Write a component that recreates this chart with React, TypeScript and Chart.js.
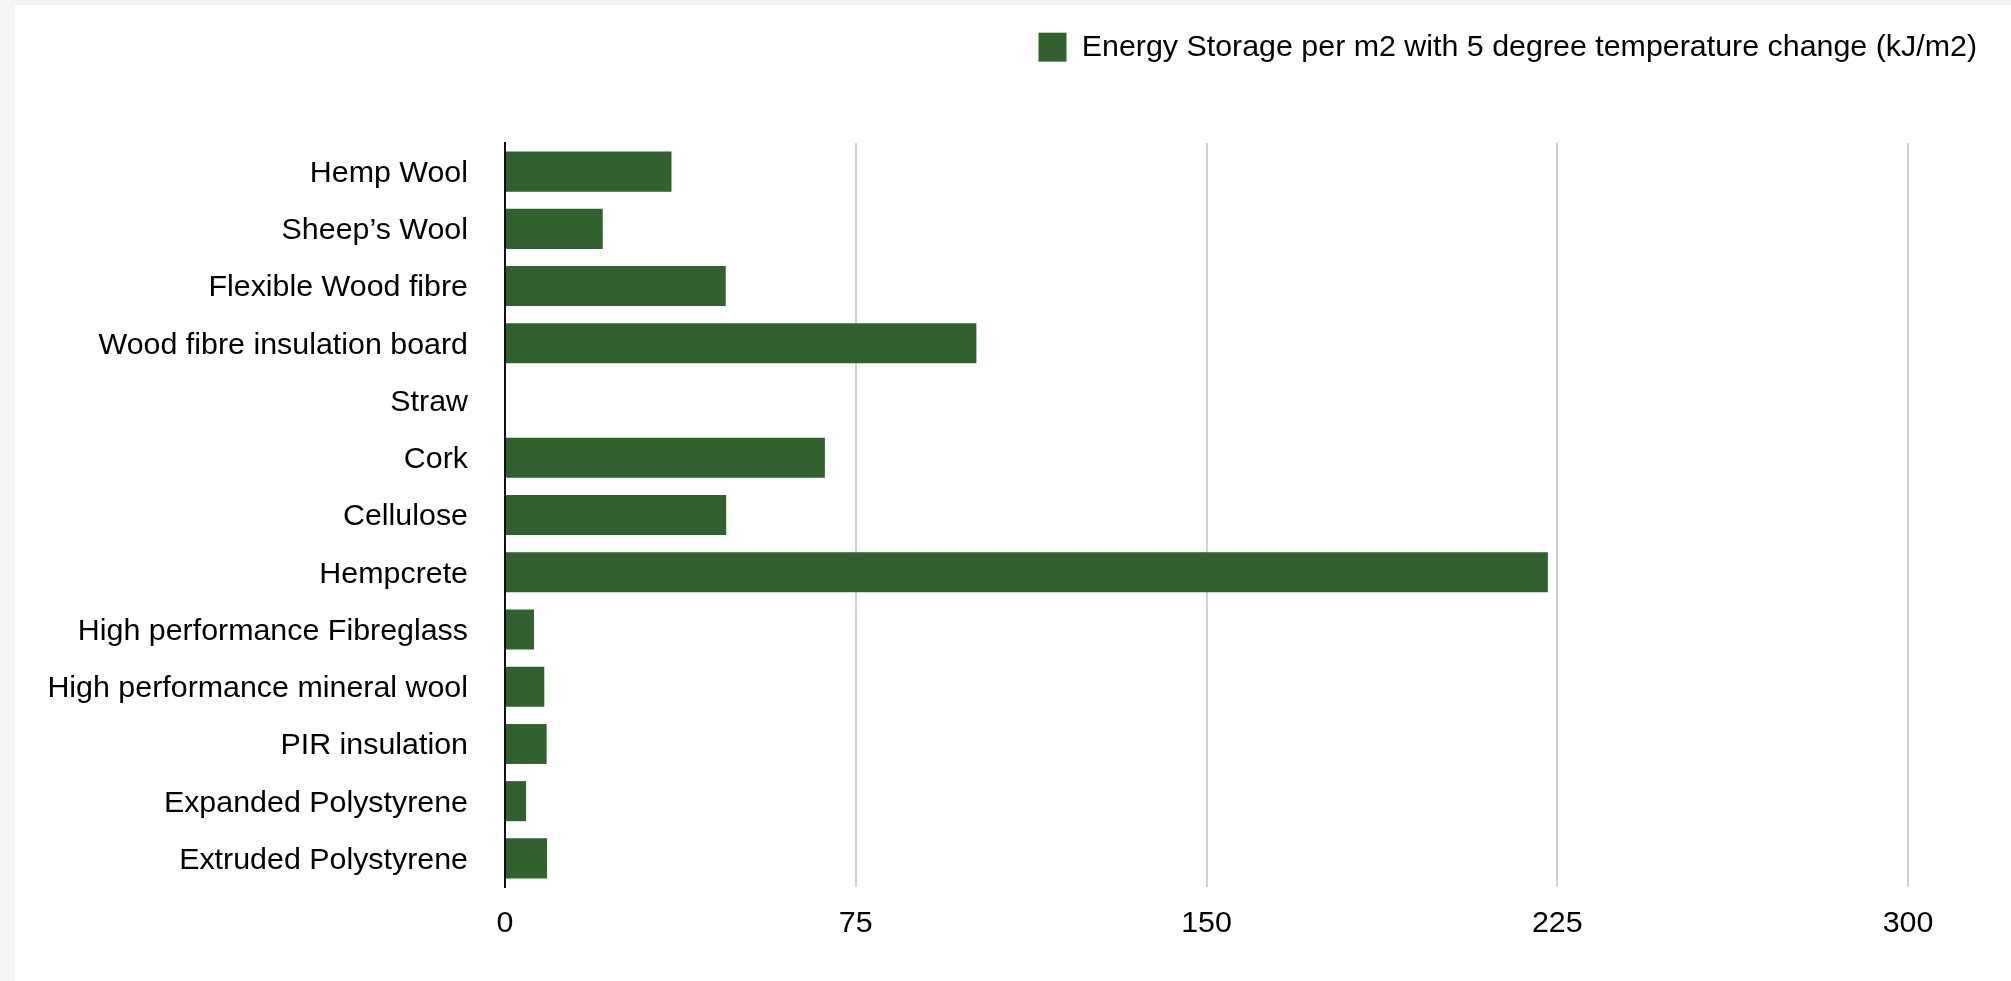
import { useEffect, useRef } from 'react';
import { Chart, registerables } from 'chart.js';

Chart.register(...registerables);

const categories = [
  'Hemp Wool',
  'Sheep\u2019s Wool',
  'Flexible Wood fibre',
  'Wood fibre insulation board',
  'Straw',
  'Cork',
  'Cellulose',
  'Hempcrete',
  'High performance Fibreglass',
  'High performance mineral wool',
  'PIR insulation',
  'Expanded Polystyrene',
  'Extruded Polystyrene',
];

const energyStorage = [35.6, 20.9, 47.2, 100.8, 0, 68.4, 47.3, 223.0, 6.2, 8.4, 8.9, 4.5, 9.0];

const xTickValues = [0, 75, 150, 225, 300];

const seriesLabel = 'Energy Storage per m2 with 5 degree temperature change (kJ/m2)';

const FONT_FAMILY = '"Liberation Sans", Arial, Helvetica, sans-serif';
const FONT_SIZE = 30.4;
const BAR_COLOR = '#31612e';

export default function App() {
  const canvasRef = useRef<HTMLCanvasElement | null>(null);

  useEffect(() => {
    document.body.style.margin = '0';
    const canvas = canvasRef.current;
    if (!canvas) return;

    const legendHeightPlugin = {
      id: 'legendHeight',
      beforeInit(chart: any) {
        if (!chart.legend) return;
        const origFit = chart.legend.fit;
        chart.legend.fit = function fit() {
          origFit.call(this);
          this.height = 121;
        };
      },
    };

    const chart = new Chart(canvas, {
      type: 'bar',
      data: {
        labels: categories,
        datasets: [
          {
            label: seriesLabel,
            data: energyStorage,
            backgroundColor: BAR_COLOR,
            borderWidth: 0,
            categoryPercentage: 0.8,
            barPercentage: 0.875,
          },
        ],
      },
      options: {
        indexAxis: 'y',
        responsive: false,
        animation: false,
        layout: { padding: { left: 0, right: 24, top: 17, bottom: 0 } },
        plugins: {
          legend: {
            position: 'top',
            align: 'end',
            labels: {
              boxWidth: 28,
              boxHeight: 29,
              padding: 10,
              color: '#000',
              font: { family: FONT_FAMILY, size: FONT_SIZE },
            },
          },
          tooltip: { enabled: false },
        },
        scales: {
          x: {
            type: 'linear',
            min: 0,
            max: 300,
            afterBuildTicks: (scale: any) => {
              scale.ticks = xTickValues.map((v) => ({ value: v }));
            },
            grid: { color: '#d2d2d2', lineWidth: 2, drawTicks: false },
            border: { display: false },
            ticks: {
              color: '#000',
              font: { family: FONT_FAMILY, size: FONT_SIZE },
              padding: 18,
              maxRotation: 0,
            },
            afterFit: (scale: any) => {
              scale.height = 94;
              scale.paddingRight = 103;
            },
          },
          y: {
            grid: { display: false, drawTicks: false },
            border: { display: true, color: '#111', width: 2 },
            ticks: {
              color: '#000',
              font: { family: FONT_FAMILY, size: FONT_SIZE },
              padding: 37,
              labelOffset: 2,
              autoSkip: false,
            },
            afterFit: (scale: any) => {
              scale.width = 490;
            },
          },
        },
      },
      plugins: [legendHeightPlugin],
    } as any);

    return () => {
      chart.destroy();
    };
  }, []);

  return (
    <div style={{ position: 'relative', width: 2011, height: 981, background: '#f4f4f4', overflow: 'hidden' }}>
      <div style={{ position: 'absolute', left: 15, top: 5, width: 1996, height: 976, background: '#ffffff' }}>
        <canvas ref={canvasRef} width={1996} height={976} style={{ display: 'block', width: 1996, height: 976 }} />
      </div>
    </div>
  );
}
